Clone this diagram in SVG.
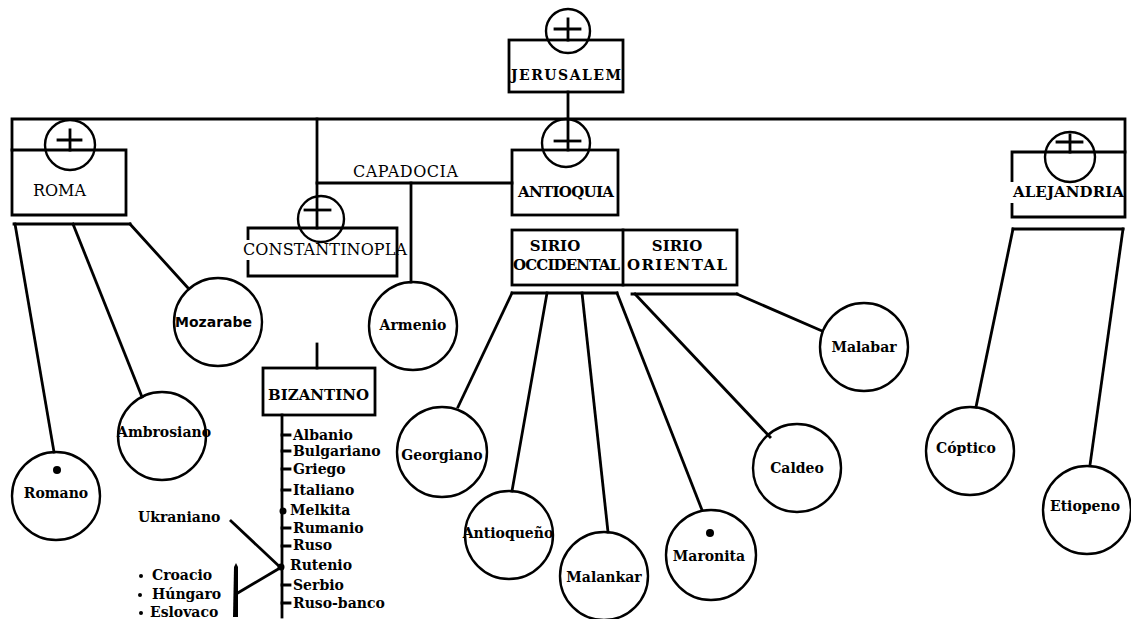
<svg xmlns="http://www.w3.org/2000/svg" width="1131" height="619" viewBox="0 0 1131 619">
<style>
.ln{fill:none;stroke:#000;stroke-width:2.8;stroke-linecap:square}
.cr{fill:none;stroke:#000;stroke-width:2.4}
.bx{fill:none;stroke:#000;stroke-width:2.8}
.b{font-family:"DejaVu Serif","Liberation Serif",serif;font-weight:bold;font-size:14px;fill:#000}
.bc{font-family:"DejaVu Serif","Liberation Serif",serif;font-weight:bold;font-size:15px;fill:#000}
.r{font-family:"DejaVu Serif","Liberation Serif",serif;font-size:16px;fill:#000}
.s{font-family:"DejaVu Sans","Liberation Sans",sans-serif;font-size:14px;fill:#000}
.m{text-anchor:middle}
</style>
<rect width="1131" height="619" fill="#fff"/>

<g id="connectors">
  <path class="ln" d="M12 150 V119 H1125 V152"/>
  <path class="ln" d="M568 92 V150"/>
  <path class="ln" d="M317 119 V228"/>
  <path class="ln" d="M317 183 H512"/>
  <path class="ln" d="M411 183 V282"/>
  <path class="ln" d="M317 344 V368"/>
  <path class="ln" d="M14 224 H130"/>
  <path class="ln" d="M15 224 L54 452"/>
  <path class="ln" d="M73 224 L142 397"/>
  <path class="ln" d="M130 224 L188 288"/>
  <path class="ln" d="M512 293 H617"/>
  <path class="ln" d="M632 294 H737"/>
  <path class="ln" d="M512 293 L458 407"/>
  <path class="ln" d="M547 293 L512 491"/>
  <path class="ln" d="M582 293 L608 532"/>
  <path class="ln" d="M617 293 L702 510"/>
  <path class="ln" d="M635 294 L770 437"/>
  <path class="ln" d="M737 294 L822 331"/>
  <path class="ln" d="M1013 229 H1123"/>
  <path class="ln" d="M1013 229 L976 407"/>
  <path class="ln" d="M1123 229 L1090 465"/>
  <path class="ln" d="M282 415 V617"/>
  <path class="ln" d="M282 435 H290 M282 451 H290 M282 469 H290 M282 490 H290 M282 528 H290 M282 546 H290 M282 585 H290 M282 603 H290" stroke-width="2"/>
  <circle cx="283" cy="511" r="3.5" fill="#000"/>
  <circle cx="281" cy="567" r="3.5" fill="#000"/>
  <path class="ln" d="M231 521 L280 567"/>
  <path class="ln" d="M236 594 L280 568"/>
  <path d="M234 567 L236 563 L238 567 L238 617 L233 617 Z" fill="#000"/>
</g>

<g id="jerusalem">
  <rect class="bx" x="509" y="40" width="114" height="52"/>
  <circle class="cr" cx="568" cy="31" r="22"/>
  <path class="ln" d="M568 19 V40 M555 29 H580"/>
  <text class="b" x="566" y="80" font-size="16" text-anchor="middle" textLength="110">JERUSALEM</text>
</g>

<g id="roma">
  <path class="bx" d="M12 150 H126 V215 H12 Z"/>
  <circle class="cr" cx="70" cy="145" r="25"/>
  <path class="ln" d="M58 140 H81 M70 130 V150"/>
  <text class="r" x="33" y="196" textLength="53">ROMA</text>
</g>

<g id="capadocia">
  <text class="r" x="353" y="177" textLength="105">CAPADOCIA</text>
</g>

<g id="constantinopla">
  <path class="bx" d="M248 240 V228 H397 V276 H248 V260"/>
  <circle class="cr" cx="321" cy="219" r="23"/>
  <path class="ln" d="M305 210 H330"/>
  <text class="r" x="243" y="255" textLength="164">CONSTANTINOPLA</text>
</g>

<g id="antioquia">
  <rect class="bx" x="512" y="150" width="106" height="65"/>
  <circle class="cr" cx="566" cy="143" r="24"/>
  <path class="ln" d="M555 141 H580"/>
  <text class="bc" x="518" y="197" textLength="96">ANTIOQUIA</text>
</g>

<g id="sirio">
  <rect class="bx" x="512" y="230" width="225" height="55"/>
  <path class="ln" d="M623 230 V285"/>
  <text class="bc m" x="555" y="251" font-size="14.5">SIRIO</text>
  <text class="bc" x="513" y="270" font-size="14.5" textLength="107">OCCIDENTAL</text>
  <text class="bc m" x="677" y="251" font-size="14.5">SIRIO</text>
  <text class="bc" x="627" y="270" font-size="14.5" textLength="100">ORIENTAL</text>
</g>

<g id="alejandria">
  <path class="bx" d="M1012 182 V152 H1125 V217 H1012 V203"/>
  <circle class="cr" cx="1070" cy="157" r="25"/>
  <path class="ln" d="M1057 142 H1082 M1070 135 V152"/>
  <text class="bc" x="1013" y="197" textLength="111">ALEJANDRIA</text>
</g>

<g id="bizantino">
  <rect class="bx" x="263" y="368" width="112" height="47"/>
  <text class="bc" x="268" y="400" textLength="101">BIZANTINO</text>
</g>

<g id="bizantino-list">
  <text class="b" x="293" y="440">Albanio</text>
  <text class="b" x="293" y="456">Bulgariano</text>
  <text class="b" x="293" y="474">Griego</text>
  <text class="b" x="293" y="495">Italiano</text>
  <text class="b" x="290" y="515">Melkita</text>
  <text class="b" x="293" y="533">Rumanio</text>
  <text class="b" x="293" y="550">Ruso</text>
  <text class="b" x="290" y="570">Rutenio</text>
  <text class="b" x="293" y="590">Serbio</text>
  <text class="b" x="293" y="608">Ruso-banco</text>
</g>

<g id="ukraniano">
  <text class="b" x="138" y="522">Ukraniano</text>
</g>

<g id="croacio-group">
  <circle cx="141" cy="576" r="2" fill="#000"/>
  <circle cx="140" cy="595" r="2" fill="#000"/>
  <circle cx="141" cy="613" r="2" fill="#000"/>
  <text class="b" x="152" y="580">Croacio</text>
  <text class="b" x="152" y="599">Húngaro</text>
  <text class="b" x="150" y="617">Eslovaco</text>
</g>

<g id="mozarabe">
  <circle class="cr" cx="218" cy="322" r="44"/>
  <text class="s" x="175" y="327" textLength="77" font-weight="bold">Mozarabe</text>
</g>
<g id="ambrosiano">
  <circle class="cr" cx="162" cy="436" r="44"/>
  <text class="b m" x="164" y="437">Ambrosiano</text>
</g>
<g id="romano">
  <circle class="cr" cx="56" cy="496" r="44"/>
  <circle cx="57" cy="470" r="4" fill="#000"/>
  <text class="b m" x="56" y="498">Romano</text>
</g>
<g id="armenio">
  <circle class="cr" cx="413" cy="326" r="44"/>
  <text class="b m" x="413" y="330">Armenio</text>
</g>
<g id="georgiano">
  <circle class="cr" cx="442" cy="452" r="45"/>
  <text class="b m" x="442" y="460">Georgiano</text>
</g>
<g id="antioqueno">
  <circle class="cr" cx="509" cy="535" r="44"/>
  <text class="b m" x="508" y="538">Antioqueño</text>
</g>
<g id="malankar">
  <circle class="cr" cx="604" cy="576" r="44"/>
  <text class="b m" x="604" y="582">Malankar</text>
</g>
<g id="maronita">
  <circle class="cr" cx="711" cy="555" r="45"/>
  <circle cx="710" cy="533" r="4" fill="#000"/>
  <text class="b m" x="709" y="561">Maronita</text>
</g>
<g id="caldeo">
  <circle class="cr" cx="797" cy="468" r="44"/>
  <text class="b m" x="797" y="473">Caldeo</text>
</g>
<g id="malabar">
  <circle class="cr" cx="864" cy="347" r="44"/>
  <text class="b m" x="864" y="352">Malabar</text>
</g>
<g id="coptico">
  <circle class="cr" cx="970" cy="451" r="44"/>
  <text class="b m" x="966" y="453">Cóptico</text>
</g>
<g id="etiopeno">
  <circle class="cr" cx="1087" cy="510" r="44"/>
  <text class="b m" x="1085" y="511">Etiopeno</text>
</g>
</svg>
